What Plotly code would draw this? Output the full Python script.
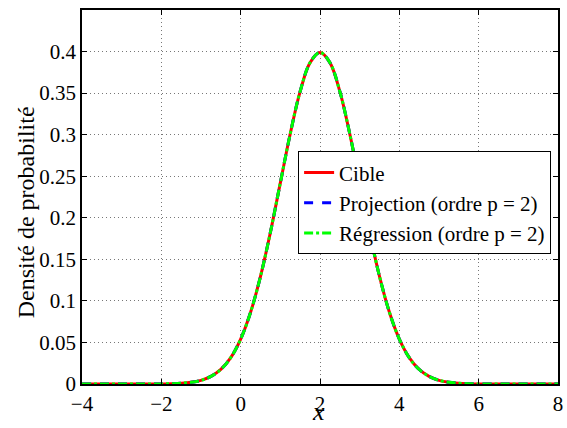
import plotly.graph_objects as go

x_vals = [-4.0, -3.75, -3.5, -3.25, -3.0, -2.75, -2.5, -2.25, -2.0, -1.75, -1.5, -1.25,
          -1.0, -0.75, -0.5, -0.25, 0.0, 0.25, 0.5, 0.75, 1.0, 1.25, 1.5, 1.75,
          2.0, 2.25, 2.5, 2.75, 3.0, 3.25, 3.5, 3.75, 4.0, 4.25, 4.5, 4.75,
          5.0, 5.25, 5.5, 5.75, 6.0, 6.25, 6.5, 6.75, 7.0, 7.25, 7.5, 7.75, 8.0]

cible = [0.0, 0.0, 0.0, 0.0, 0.0, 0.0, 0.0, 0.0001, 0.0001, 0.0004, 0.0009, 0.0020,
         0.0044, 0.0091, 0.0175, 0.0317, 0.0540, 0.0863, 0.1295, 0.1826, 0.2420, 0.3011, 0.3521, 0.3867,
         0.3989, 0.3867, 0.3521, 0.3011, 0.2420, 0.1826, 0.1295, 0.0863, 0.0540, 0.0317, 0.0175, 0.0091,
         0.0044, 0.0020, 0.0009, 0.0004, 0.0001, 0.0001, 0.0, 0.0, 0.0, 0.0, 0.0, 0.0, 0.0]

projection = [0.0, 0.0, 0.0, 0.0, 0.0, 0.0, 0.0, 0.0001, 0.0001, 0.0004, 0.0009, 0.0020,
              0.0044, 0.0091, 0.0175, 0.0317, 0.0540, 0.0863, 0.1295, 0.1826, 0.2420, 0.3011, 0.3521, 0.3867,
              0.3989, 0.3867, 0.3521, 0.3011, 0.2420, 0.1826, 0.1295, 0.0863, 0.0540, 0.0317, 0.0175, 0.0091,
              0.0044, 0.0020, 0.0009, 0.0004, 0.0001, 0.0001, 0.0, 0.0, 0.0, 0.0, 0.0, 0.0, 0.0]

regression = [0.0, 0.0, 0.0, 0.0, 0.0, 0.0, 0.0, 0.0001, 0.0001, 0.0004, 0.0009, 0.0020,
              0.0044, 0.0091, 0.0175, 0.0317, 0.0540, 0.0863, 0.1295, 0.1826, 0.2420, 0.3011, 0.3521, 0.3867,
              0.3989, 0.3867, 0.3521, 0.3011, 0.2420, 0.1826, 0.1295, 0.0863, 0.0540, 0.0317, 0.0175, 0.0091,
              0.0044, 0.0020, 0.0009, 0.0004, 0.0001, 0.0001, 0.0, 0.0, 0.0, 0.0, 0.0, 0.0, 0.0]

x_ticks = [-4, -2, 0, 2, 4, 6, 8]
x_tick_labels = ["\u22124", "\u22122", "0", "2", "4", "6", "8"]
y_ticks = [0, 0.05, 0.1, 0.15, 0.2, 0.25, 0.3, 0.35, 0.4]
y_tick_labels = ["0", "0.05", "0.1", "0.15", "0.2", "0.25", "0.3", "0.35", "0.4"]

FONT = "Liberation Serif, Times New Roman, serif"

fig = go.Figure()
fig.add_trace(go.Scatter(x=x_vals, y=cible, mode="lines", name="Cible",
                         line=dict(color="#ff0000", width=3, shape="spline")))
fig.add_trace(go.Scatter(x=x_vals, y=projection, mode="lines", name="Projection (ordre p = 2)",
                         line=dict(color="#0000ff", width=3, dash="dash", shape="spline")))
fig.add_trace(go.Scatter(x=x_vals, y=regression, mode="lines", name="Régression (ordre p = 2)",
                         line=dict(color="#00ff00", width=3, dash="dashdot", shape="spline")))

axis_common = dict(showline=True, linecolor="black", linewidth=1.5, mirror="ticks",
                   ticks="inside", ticklen=5, tickcolor="black", automargin=False,
                   showgrid=True, gridcolor="#777777", griddash="1px,3px", gridwidth=1,
                   zeroline=False, tickfont=dict(family=FONT, size=21, color="black"))

fig.update_layout(
    width=567, height=428,
    margin=dict(l=82, r=9, t=10, b=44),
    paper_bgcolor="white", plot_bgcolor="white",
    font=dict(family=FONT, color="black"),
    showlegend=True,
    legend=dict(x=0.454, y=0.622, xanchor="left", yanchor="top",
                bgcolor="white", bordercolor="black", borderwidth=1,
                font=dict(family=FONT, size=21, color="black"),
                tracegroupgap=0, itemwidth=30),
    xaxis=dict(range=[-4, 8], tickvals=x_ticks, ticktext=x_tick_labels, **axis_common),
    yaxis=dict(range=[0, 0.45], tickvals=y_ticks, ticktext=y_tick_labels, **axis_common),
    annotations=[
        dict(text="<i>x</i>", xref="paper", yref="paper", x=0.497, y=-0.0735,
             xanchor="center", yanchor="middle", showarrow=False,
             font=dict(family=FONT, size=26, color="black")),
        dict(text="Densité de probabilité", xref="paper", yref="paper", x=-0.1176, y=0.459,
             xanchor="center", yanchor="middle", showarrow=False, textangle=-90,
             font=dict(family=FONT, size=24, color="black")),
    ],
)

fig.write_html("out.html", config={"displayModeBar": False},
               post_script="document.body.style.margin='0';document.body.style.padding='0';")
